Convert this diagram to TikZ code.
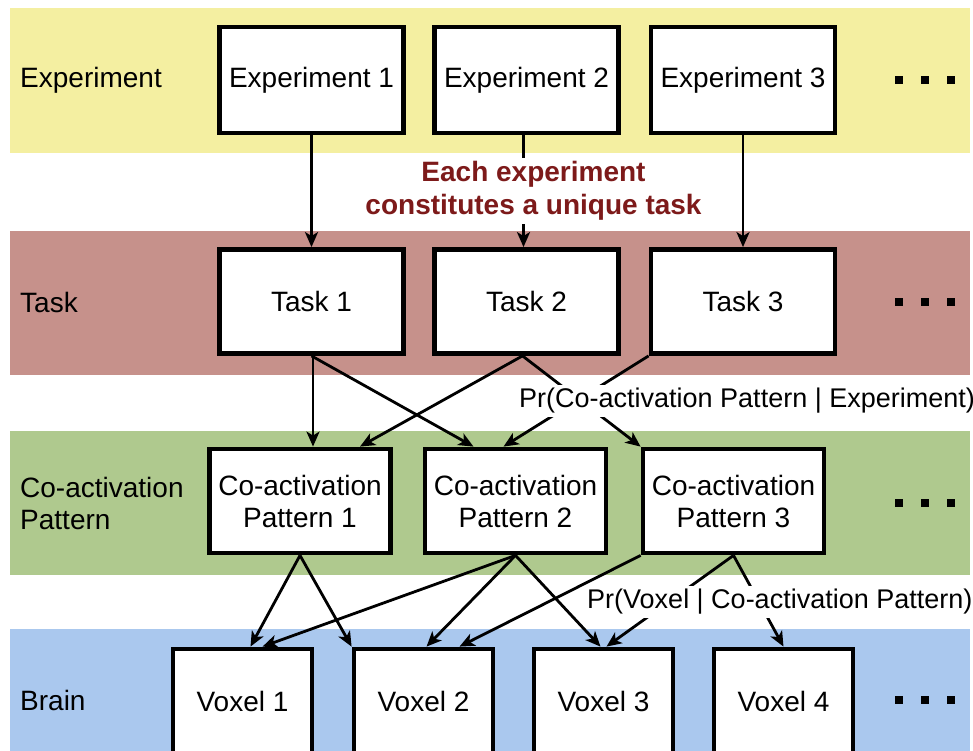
\documentclass[tikz,border=0pt]{standalone}
\usepackage{fontspec}
\setmainfont{Liberation Sans}
\usetikzlibrary{arrows.meta,calc}
\definecolor{bandyellow}{RGB}{244,239,161}
\definecolor{bandred}{RGB}{198,145,139}
\definecolor{bandgreen}{RGB}{175,201,142}
\definecolor{bandblue}{RGB}{170,200,238}
\definecolor{notered}{RGB}{125,26,26}
\begin{document}
\begin{tikzpicture}[x=1pt,y=-1pt,
  txt/.style={font=\fontsize{28}{32}\selectfont},
  box/.style={txt, draw=black, line width=4.8pt, fill=white, inner sep=0pt, align=center},
  ebox/.style={box, minimum width=184pt, minimum height=106pt},
  tbox/.style={box, minimum width=184pt, minimum height=104pt},
  pbox/.style={box, minimum width=181pt, minimum height=104pt},
  vbox/.style={box, minimum width=139pt, minimum height=104pt},
  link/.style={line width=2.8pt, -{Stealth[length=15pt,width=13pt,inset=4pt]}},
  rowlabel/.style={txt, anchor=west, align=left, inner sep=0pt},
  prob/.style={font=\fontsize{27}{32}\selectfont, anchor=west, fill=white, inner sep=3pt},
  note/.style={font=\bfseries\fontsize{28}{33}\selectfont, text=notered, fill=white, align=center, inner sep=3pt},
  dot/.style={fill=black, minimum size=8pt, inner sep=0pt}
]
\useasboundingbox (0,0) rectangle (973,751);
\clip (0,0) rectangle (973,751);

% coloured level bands
\fill[bandyellow] (10,8) rectangle (970,153);
\fill[bandred]    (10,231) rectangle (970,375);
\fill[bandgreen]  (10,431) rectangle (970,575);
\fill[bandblue]   (10,629) rectangle (970,760);

% level names
\node[rowlabel] (lexp)  at (20,80)  {Experiment};
\node[rowlabel] (ltask) at (20,302) {Task};
\node[rowlabel] (lpat)  at (20,503) {Co-activation\\Pattern};
\node[rowlabel] (lbrain) at (20,700) {Brain};

% experiments
\node[ebox] (e1) at (311.5,80) {Experiment 1};
\node[ebox] (e2) at (526.5,80) {Experiment 2};
\node[ebox] (e3) at (743,80)   {Experiment 3};

% tasks
\node[tbox] (t1) at (311.5,301.5) {Task 1};
\node[tbox] (t2) at (526.5,301.5) {Task 2};
\node[tbox] (t3) at (743,301.5)   {Task 3};

% co-activation patterns
\node[pbox] (p1) at (300,501)   {Co-activation\\Pattern 1};
\node[pbox] (p2) at (515.5,501) {Co-activation\\Pattern 2};
\node[pbox] (p3) at (733.5,501) {Co-activation\\Pattern 3};

% voxels
\node[vbox] (v1) at (242.5,701) {Voxel 1};
\node[vbox] (v2) at (423.5,701) {Voxel 2};
\node[vbox] (v3) at (603.5,701) {Voxel 3};
\node[vbox] (v4) at (783.5,701) {Voxel 4};

% continuation marks
\foreach \y/\r in {80/a,302/b,503/c,700/d}
  \foreach \x/\k in {899/1,925/2,951/3}
    \node[dot] (dots\r\k) at (\x,\y) {};

% experiment -> task
\draw[link] ([xshift=-3pt]e2.south) -- ([xshift=-3pt]t2.north);
\draw[link] (e1.south) -- (t1.north);
\draw[link] (e3.south) -- (t3.north);
\node[note] (each) at (533.5,191) {Each experiment\\constitutes a unique task};

% task -> pattern
\draw[link] ([xshift=1.5pt]t1.south) -- ([xshift=1.5pt]t1.south |- p1.north);
\draw[link] (t1.south) -- ([xshift=-42pt]p2.north);
\draw[link] ([xshift=-4pt]t2.south) -- ([xshift=60pt]p1.north);
\draw[link] ([xshift=-4pt]t2.south) -- (p3.north west);
\draw[link] (t3.south west) -- ([xshift=-12pt]p2.north);
\node[prob] (prexp) at (516,401) {Pr(Co-activation Pattern | Experiment)};

% pattern -> voxel
\draw[link] (p1.south) -- ([xshift=8pt]v1.north);
\draw[link] (p1.south) -- (v2.north west);
\draw[link] (p2.south) -- ([xshift=20pt]v1.north);
\draw[link] (p2.south) -- ([xshift=3pt]v2.north);
\draw[link] (p2.south) -- ([xshift=-3pt]v3.north);
\draw[link] (p3.south west) -- ([xshift=36pt]v2.north);
\draw[link] (p3.south) -- ([xshift=3pt]v3.north);
\draw[link] (p3.south) -- (v4.north);
\node[prob] (prvox) at (584,602) {Pr(Voxel | Co-activation Pattern)};
\end{tikzpicture}
\end{document}
